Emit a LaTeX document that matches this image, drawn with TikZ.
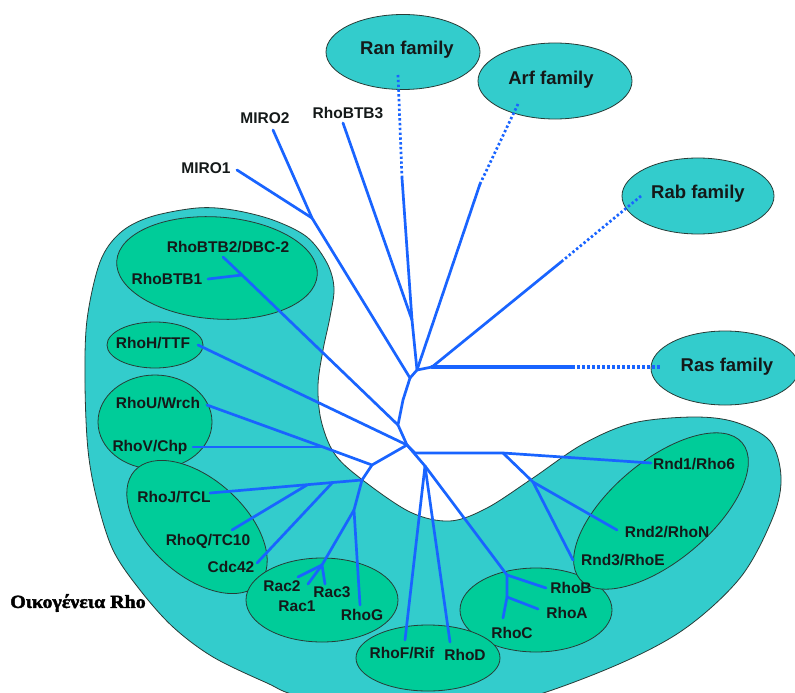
\documentclass[tikz,border=0pt]{standalone}
\usepackage{fontspec}
\setmainfont{Liberation Sans}
\newfontfamily\greekserif[FakeBold=2.2,FakeStretch=1.08]{Liberation Serif}
\usetikzlibrary{shapes.geometric}
\definecolor{turq}{RGB}{51,204,204}
\definecolor{grn}{RGB}{0,204,153}
\definecolor{treeblue}{RGB}{25,100,255}
\definecolor{edge}{RGB}{40,60,55}
\definecolor{txt}{RGB}{20,25,25}
\tikzset{
  tree/.style={draw=treeblue,line width=2.7bp,line cap=round,line join=round},
  dots/.style={draw=treeblue,line width=2.7bp,dash pattern=on 2.4bp off 2.4bp},
  famell/.style={ellipse,draw=edge,line width=0.8bp,fill=turq,inner sep=0pt},
  grnell/.style={ellipse,draw=edge,line width=0.8bp,fill=grn,inner sep=0pt},
  gene/.style={font=\bfseries\fontsize{15.5bp}{18bp}\selectfont,text=txt,inner sep=0pt},
  fam/.style={font=\bfseries\fontsize{18.5bp}{22bp}\selectfont,text=txt,inner sep=0pt},
}
\begin{document}
\begin{tikzpicture}[x=1bp,y=-1bp]
\clip (0,0) rectangle (795,693);
\fill[white] (0,0) rectangle (795,693);
% big Rho background
\draw[fill=turq,draw=edge,line width=0.8bp] plot[smooth cycle,tension=0.55] coordinates {
 (150,217) (197,208) (233,210) (273,220) (307,237) (327,263) (334,288) (330,317)
 (323,350) (318,385) (321,420) (334,453) (360,478) (410,512) (450,521) (487,508)
 (533,478) (583,444) (633,423) (693,417) (735,422) (770,441) (781,477) (773,517)
 (740,578) (680,632) (600,672) (500,705) (400,712) (300,696) (267,683) (213,657)
 (173,627) (140,590) (113,550) (97,500) (88,450) (85,383) (87,320) (100,262) (120,233)};
% family ellipses
\node[famell,minimum width=154bp,minimum height=75bp] (ranell) at (403,52) {};
\node[famell,minimum width=154bp,minimum height=76bp] (arfell) at (555,81) {};
\node[famell,minimum width=152bp,minimum height=76bp] (rabell) at (698,196) {};
\node[famell,minimum width=148bp,minimum height=74bp] (rasell) at (725,368) {};
% green cluster ellipses
\node[grnell,minimum width=201bp,minimum height=102bp,rotate=-4] (btbell) at (217,268) {};
\node[grnell,minimum width=96bp,minimum height=46bp] (rhohell) at (155,345) {};
\node[grnell,minimum width=114bp,minimum height=94bp] (rhouell) at (155,422) {};
\node[grnell,minimum width=168bp,minimum height=96bp,rotate=-42] (rhojell) at (197,527) {};
\node[grnell,minimum width=152bp,minimum height=84bp] (racell) at (322,600) {};
\node[grnell,minimum width=152bp,minimum height=84bp] (rhobell) at (536,610) {};
\node[grnell,minimum width=144bp,minimum height=66bp] (rhofell) at (428,658) {};
\node[grnell,minimum width=212bp,minimum height=100bp,rotate=40] (rndell) at (661,511) {};
% tree coordinates
\coordinate (miro1e) at (237,170);
\coordinate (miro2e) at (273,130);
\coordinate (jm) at (312,218);
\coordinate (ja) at (410,378);
\coordinate (jb) at (417,370);
\coordinate (jr) at (412,320);
\coordinate (btb3e) at (343,123);
\coordinate (ransol) at (402,178);
\coordinate (ranend) at (398,75);
\coordinate (arfsol) at (480,184);
\coordinate (arfend) at (518,104);
\coordinate (jb2) at (432,367);
\coordinate (rassol) at (572,367);
\coordinate (rasend) at (662,367);
\coordinate (rabsol) at (561,262);
\coordinate (rabend) at (641,196);
\coordinate (ja1) at (403,400);
\coordinate (ja2) at (398,425);
\coordinate (jbtb) at (242,275);
\coordinate (btb2e) at (223,257);
\coordinate (btb1e) at (208,279);
\coordinate (jc) at (407,445);
\coordinate (rhohe) at (198,345);
\coordinate (jc1) at (415,453);
\coordinate (jrnd) at (503,453);
\coordinate (rnd1e) at (651,463);
\coordinate (jrnd2) at (533,482);
\coordinate (rnd2e) at (617,530);
\coordinate (rnd3e) at (573,560);
\coordinate (je) at (425,466);
\coordinate (rhofe) at (405,640);
\coordinate (rhode) at (450,642);
\coordinate (jrhob) at (507,575);
\coordinate (rhobe) at (546,588);
\coordinate (jrhoa) at (507,597);
\coordinate (rhoae) at (538,609);
\coordinate (rhoce) at (503,618);
\coordinate (jd) at (372,465);
\coordinate (ju) at (323,447);
\coordinate (rhoue) at (207,405);
\coordinate (rhove) at (193,447);
\coordinate (jf) at (362,480);
\coordinate (rhoje) at (210,493);
\coordinate (jcdc) at (333,482);
\coordinate (cdc42e) at (257,563);
\coordinate (jq) at (307,485);
\coordinate (rhoqe) at (232,530);
\coordinate (jg) at (354,510);
\coordinate (rhoge) at (360,605);
\coordinate (jrac) at (322,565);
\coordinate (rac3e) at (325,584);
\coordinate (rac2e) at (298,577);
\coordinate (rac1e) at (308,584);
% tree edges
\draw[tree] (miro1e) -- (jm);
\draw[tree] (miro2e) -- (jm) -- (ja);
\draw[tree] (btb3e) -- (jr);
\draw[tree] (ransol) -- (jr) -- (jb) -- (ja);
\draw[dots] (ranend) -- (ransol);
\draw[tree] (arfsol) -- (jb);
\draw[dots] (arfend) -- (arfsol);
\draw[tree] (jb) -- (jb2) -- (rabsol);
\draw[dots] (rabend) -- (rabsol);
\draw[tree,line width=3.8bp] (jb2) -- (rassol);
\draw[treeblue,line width=3.8bp,dash pattern=on 3bp off 2bp] (rassol) -- (rasend);
\draw[tree] (ja) -- (ja1) -- (ja2) -- (jc);
\draw[tree] (ja2) -- (jbtb) -- (btb2e);
\draw[tree] (jbtb) -- (btb1e);
\draw[tree] (rhohe) -- (jc);
\draw[tree] (jc) -- (jc1) -- (jrnd) -- (rnd1e);
\draw[tree] (jrnd) -- (jrnd2) -- (rnd2e);
\draw[tree] (jrnd2) -- (rnd3e);
\draw[tree] (jc) -- (je) -- (rhofe);
\draw[tree] (je) -- (rhode);
\draw[tree] (je) -- (jrhob) -- (rhobe);
\draw[tree] (jrhob) -- (jrhoa) -- (rhoce);
\draw[tree] (jrhoa) -- (rhoae);
\draw[tree] (jc) -- (jd) -- (ju) -- (rhoue);
\draw[tree] (ju) -- (rhove);
\draw[tree] (jd) -- (jf) -- (rhoje);
\draw[tree] (jcdc) -- (cdc42e);
\draw[tree] (jq) -- (rhoqe);
\draw[tree] (jf) -- (jg) -- (rhoge);
\draw[tree] (jg) -- (jrac) -- (rac3e);
\draw[tree] (jrac) -- (rac2e);
\draw[tree] (jrac) -- (rac1e);
% family labels
\node[fam] (ranlbl) at (407,50) {Ran family};
\node[fam] (arflbl) at (551,80) {Arf family};
\node[fam] (rablbl) at (698,194) {Rab family};
\node[fam] (raslbl) at (727,367) {Ras family};
% gene labels
\node[gene] (miro2) at (265,118) {MIRO2};
\node[gene] (btb3) at (348,113) {RhoBTB3};
\node[gene] (miro1) at (206,168) {MIRO1};
\node[gene] (btb2) at (228,247) {RhoBTB2/DBC-2};
\node[gene] (btb1) at (167,279) {RhoBTB1};
\node[gene] (rhoh) at (153,343) {RhoH/TTF};
\node[gene] (rhou) at (158,403) {RhoU/Wrch};
\node[gene] (rhov) at (150,447) {RhoV/Chp};
\node[gene] (rhoj) at (174,497) {RhoJ/TCL};
\node[gene] (rhoq) at (208,541) {RhoQ/TC10};
\node[gene] (cdc42) at (231,567) {Cdc42};
\node[gene] (rac2) at (282,586) {Rac2};
\node[gene] (rac1) at (297,606) {Rac1};
\node[gene] (rac3) at (332,592) {Rac3};
\node[gene] (rhog) at (362,615) {RhoG};
\node[gene] (rhof) at (402,653) {RhoF/Rif};
\node[gene] (rhod) at (465,655) {RhoD};
\node[gene] (rhob) at (571,588) {RhoB};
\node[gene] (rhoa) at (567,613) {RhoA};
\node[gene] (rhoc) at (512,633) {RhoC};
\node[gene] (rnd1) at (694,464) {Rnd1/Rho6};
\node[gene] (rnd2) at (667,532) {Rnd2/RhoN};
\node[gene] (rnd3) at (623,560) {Rnd3/RhoE};
\node[font=\greekserif\bfseries\fontsize{18.5bp}{22bp}\selectfont,text=black,inner sep=0pt] (rholbl) at (78,603) {Οικογένεια Rho};
\end{tikzpicture}
\end{document}
